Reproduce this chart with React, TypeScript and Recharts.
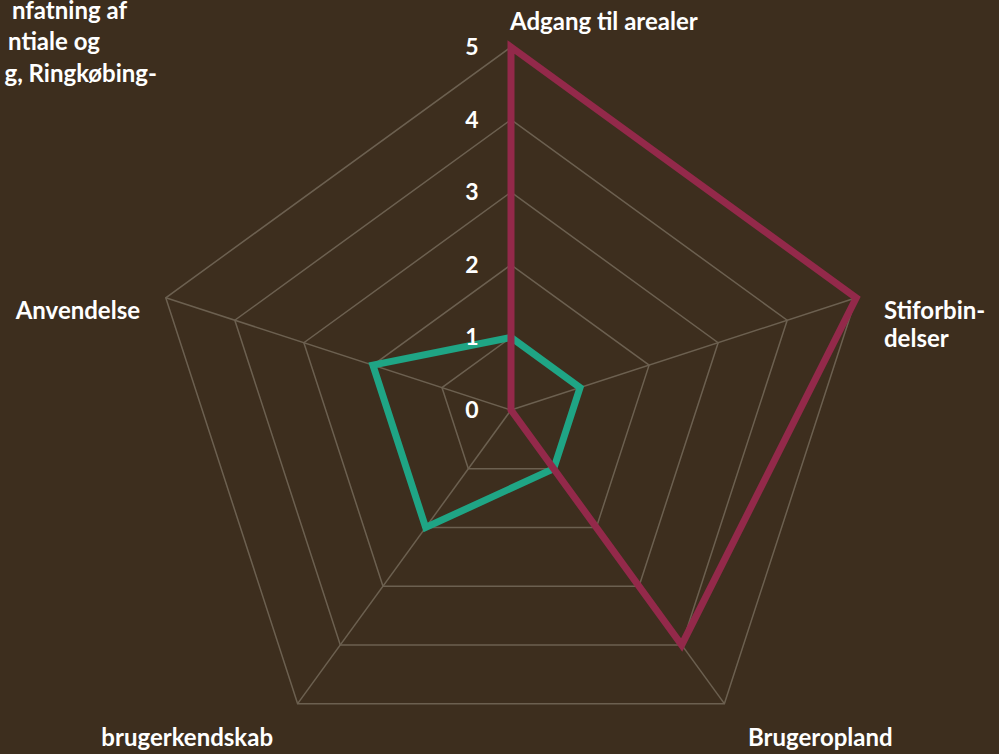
import { RadarChart, Radar, PolarGrid, PolarAngleAxis, PolarRadiusAxis } from "recharts";

const axes = ["Adgang til arealer", "Stiforbindelser", "Brugeropland", "brugerkendskab", "Anvendelse"];
const redValues = [5, 5, 4, 0, 0];
const tealValues = [1, 1, 1, 2, 2];
const radiusTicks = [0, 1, 2, 3, 4, 5];
const titleLines = ["nfatning af", "ntiale og", "g, Ringkøbing-"];

const data = axes.map((axis, i) => ({ axis, red: redValues[i], teal: tealValues[i] }));

const BG = "#3d2e1e";
const GRID = "#6c6050";
const RED = "#93294a";
const TEAL = "#1fa585";
const FONT = "Lato, 'Open Sans', sans-serif";

// where each category label sits (text only)
const labelPos = [
  { x: 510, y: 30, anchor: "start", lines: ["Adgang til arealer"] },
  { x: 884, y: 319, anchor: "start", lines: ["Stiforbin-", "delser"] },
  { x: 748, y: 746, anchor: "start", lines: ["Brugeropland"] },
  { x: 273, y: 746, anchor: "end", lines: ["brugerkendskab"] },
  { x: 140, y: 319, anchor: "end", lines: ["Anvendelse"] },
];

const titleEnds = [127, 100, 157];
const titleBase = [19, 50, 82];

const AngleTick = (props: any) => {
  const p = labelPos[props.index];
  if (!p) return null;
  return (
    <text x={p.x} y={p.y} textAnchor={p.anchor} fill="#ffffff" fontFamily={FONT} fontWeight={700} fontSize={24}>
      {p.lines.map((l, i) => (
        <tspan key={i} x={p.x} dy={i === 0 ? 0 : 28}>{l}</tspan>
      ))}
    </text>
  );
};

const RadiusTick = (props: any) => {
  const { x, y, payload } = props;
  return (
    <text x={x - 39} y={y + 8} textAnchor="middle" fill="#ffffff" fontFamily={FONT} fontWeight={700} fontSize={23}>
      {payload.value}
    </text>
  );
};

export default function App() {
  return (
    <div style={{ position: "fixed", left: 0, top: 0, width: 999, height: 754, background: BG, overflow: "hidden" }}>
      <svg width={999} height={120} style={{ position: "absolute", left: 0, top: 0 }}>
        {titleLines.map((t, i) => (
          <text key={i} x={titleEnds[i]} y={titleBase[i]} textAnchor="end" fill="#ffffff" fontFamily={FONT} fontWeight={700} fontSize={24}>
            {t}
          </text>
        ))}
      </svg>
      <RadarChart width={999} height={754} cx={511} cy={410} outerRadius={363} data={data} margin={{ top: 0, right: 0, bottom: 0, left: 0 }}>
        <PolarGrid gridType="polygon" stroke={GRID} strokeWidth={1.5} />
        <PolarAngleAxis dataKey="axis" tick={<AngleTick />} tickLine={false} axisLine={false} />
        <PolarRadiusAxis angle={90} domain={[0, 5]} ticks={radiusTicks} tickCount={6} axisLine={false} tick={<RadiusTick />} />
        <Radar dataKey="teal" stroke={TEAL} strokeWidth={7} fill="none" fillOpacity={0} isAnimationActive={false} />
        <Radar dataKey="red" stroke={RED} strokeWidth={7} fill="none" fillOpacity={0} isAnimationActive={false} />
      </RadarChart>
    </div>
  );
}
